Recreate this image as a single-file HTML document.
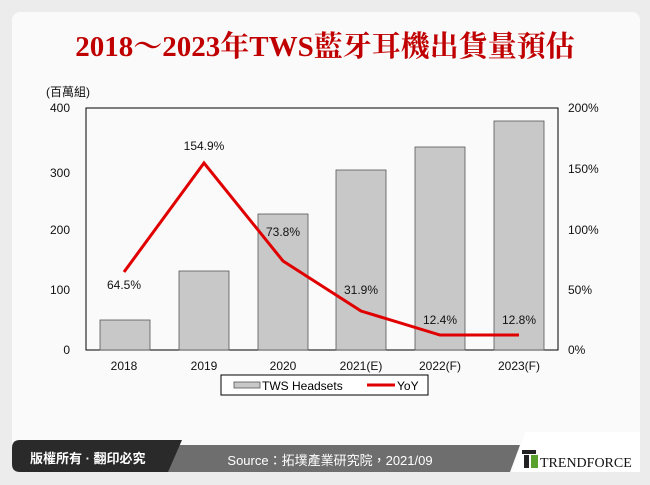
<!DOCTYPE html><html><head><meta charset="utf-8"><style>
body{margin:0;width:650px;height:485px;background:#ececec;overflow:hidden;font-family:"Liberation Sans","Noto Sans CJK TC",sans-serif}
</style></head><body>
<svg width="650" height="485" xmlns="http://www.w3.org/2000/svg" style="position:absolute;left:0;top:0">
<rect x="12" y="12" width="628" height="460" rx="8" fill="#fafafa"/>
<text x="325" y="56" text-anchor="middle" font-family="Liberation Serif,'Noto Serif CJK SC',serif" font-weight="bold" font-size="29" fill="#c00000">2018～2023年TWS藍牙耳機出貨量預估</text>
<g font-size="12" fill="#111">
<text x="46" y="96">(百萬組)</text>
<text x="70" y="112" text-anchor="end">400</text>
<text x="70" y="177" text-anchor="end">300</text>
<text x="70" y="234" text-anchor="end">200</text>
<text x="70" y="294" text-anchor="end">100</text>
<text x="70" y="354" text-anchor="end">0</text>
<text x="568" y="112">200%</text>
<text x="568" y="173">150%</text>
<text x="568" y="234">100%</text>
<text x="568" y="294">50%</text>
<text x="568" y="354">0%</text>
</g>
<rect x="86" y="108" width="472" height="242" fill="none" stroke="#000" stroke-width="1"/>
<g fill="#c8c8c8" stroke="#555" stroke-width="0.8">
<rect x="100" y="320" width="50" height="30"/>
<rect x="179" y="271" width="50" height="79"/>
<rect x="258" y="214" width="50" height="136"/>
<rect x="336" y="170" width="50" height="180"/>
<rect x="415" y="147" width="50" height="203"/>
<rect x="494" y="121" width="50" height="229"/>
</g>
<polyline points="124,272 204,163 283,261 361,311 440,335 519,335" fill="none" stroke="#e00000" stroke-width="3"/>
<g font-size="12" fill="#111" text-anchor="middle">
<text x="124" y="289">64.5%</text>
<text x="204" y="150">154.9%</text>
<text x="283" y="236">73.8%</text>
<text x="361" y="294">31.9%</text>
<text x="440" y="324">12.4%</text>
<text x="519" y="324">12.8%</text>
<text x="124" y="370">2018</text>
<text x="204" y="370">2019</text>
<text x="283" y="370">2020</text>
<text x="361" y="370">2021(E)</text>
<text x="440" y="370">2022(F)</text>
<text x="519" y="370">2023(F)</text>
</g>
<rect x="221" y="375" width="207" height="20" fill="#fff" stroke="#000"/>
<rect x="234" y="382" width="26" height="6" fill="#c8c8c8" stroke="#555" stroke-width="0.8"/>
<text x="262" y="390" font-size="12">TWS Headsets</text>
<line x1="367" y1="385" x2="395" y2="385" stroke="#e00000" stroke-width="3"/>
<text x="397" y="390" font-size="12">YoY</text>
<polygon points="145,445 520,445 510,472 135,472" fill="#6e6e6e"/>
<path d="M20,440 L182,440 L168,472 L20,472 Q12,472 12,464 L12,448 Q12,440 20,440Z" fill="#2a2a2a"/>
<text x="30" y="463" font-size="13" font-weight="bold" fill="#fff">版權所有 · 翻印必究</text>
<text x="330" y="465" font-size="13" fill="#fff" text-anchor="middle">Source：拓墣產業研究院，2021/09</text>
<polygon points="525,432 640,432 640,472 512,472" fill="#fff"/>
<rect x="522" y="450" width="14" height="4" fill="#222"/>
<rect x="524" y="455" width="5" height="13" fill="#222"/>
<rect x="531" y="455" width="7" height="13" fill="#5aa02c"/>
<text x="540" y="467" font-family="Liberation Serif,serif" font-size="14" fill="#111">TRENDFORCE</text>
</svg>
</body></html>
